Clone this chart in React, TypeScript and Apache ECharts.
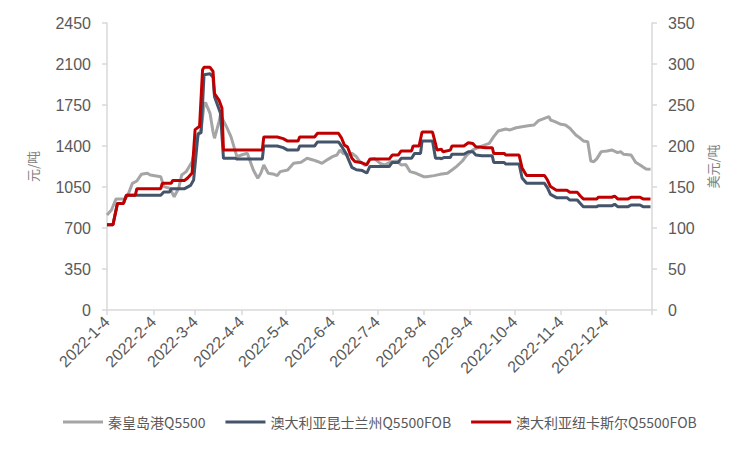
import React, { useEffect, useRef } from "react";
import * as echarts from "echarts";

// Daily category axis: 2022-1-4 .. 2023-1-4
const startDay = Date.UTC(2022, 0, 4);
const endDay = Date.UTC(2023, 0, 4);
const dateCategories: string[] = [];
for (let t = startDay; t <= endDay; t += 86400000) {
  const d = new Date(t);
  dateCategories.push(`${d.getUTCFullYear()}-${d.getUTCMonth() + 1}-${d.getUTCDate()}`);
}

const seriesNames = ["秦皇岛港Q5500", "澳大利亚昆士兰州Q5500FOB", "澳大利亚纽卡斯尔Q5500FOB"];

// 秦皇岛港Q5500 (元/吨, left axis)
const qhdData: [string, number][] = [
  ["2022-1-4", 811], ["2022-1-7", 854], ["2022-1-10", 947], ["2022-1-16", 947], ["2022-1-18", 982],
  ["2022-1-21", 1081], ["2022-1-24", 1101], ["2022-1-27", 1158], ["2022-1-31", 1167], ["2022-2-2", 1152],
  ["2022-2-9", 1138], ["2022-2-11", 1053], ["2022-2-15", 1039], ["2022-2-18", 967], ["2022-2-21", 1039],
  ["2022-2-23", 1152], ["2022-2-26", 1181], ["2022-3-2", 1266], ["2022-3-4", 1380], ["2022-3-6", 1494],
  ["2022-3-8", 1537], ["2022-3-10", 1750], ["2022-3-11", 1770], ["2022-3-14", 1679], ["2022-3-16", 1522],
  ["2022-3-17", 1466], ["2022-3-20", 1608], ["2022-3-21", 1665], ["2022-3-25", 1565], ["2022-3-28", 1480],
  ["2022-4-1", 1309], ["2022-4-4", 1323], ["2022-4-8", 1338], ["2022-4-10", 1266], ["2022-4-12", 1195],
  ["2022-4-15", 1124], ["2022-4-17", 1167], ["2022-4-19", 1238], ["2022-4-22", 1167], ["2022-4-26", 1158],
  ["2022-4-28", 1147], ["2022-4-30", 1181], ["2022-5-5", 1195], ["2022-5-9", 1252], ["2022-5-14", 1261],
  ["2022-5-18", 1295], ["2022-5-22", 1281], ["2022-5-25", 1268], ["2022-5-28", 1252], ["2022-6-1", 1286],
  ["2022-6-4", 1309], ["2022-6-7", 1323], ["2022-6-9", 1366], ["2022-6-11", 1338], ["2022-6-15", 1323],
  ["2022-6-17", 1338], ["2022-6-20", 1309], ["2022-6-22", 1272], ["2022-6-26", 1232], ["2022-6-29", 1281],
  ["2022-7-2", 1295], ["2022-7-6", 1252], ["2022-7-9", 1238], ["2022-7-13", 1266], ["2022-7-17", 1272],
  ["2022-7-20", 1238], ["2022-7-23", 1243], ["2022-7-26", 1181], ["2022-7-30", 1167], ["2022-8-4", 1138],
  ["2022-8-6", 1138], ["2022-8-11", 1147], ["2022-8-15", 1158], ["2022-8-20", 1167], ["2022-8-23", 1195],
  ["2022-8-26", 1224], ["2022-8-30", 1272], ["2022-9-2", 1323], ["2022-9-6", 1366], ["2022-9-11", 1394],
  ["2022-9-17", 1423], ["2022-9-20", 1480], ["2022-9-23", 1528], ["2022-9-28", 1545], ["2022-10-1", 1537],
  ["2022-10-5", 1556], ["2022-10-9", 1565], ["2022-10-13", 1573], ["2022-10-17", 1579], ["2022-10-20", 1616],
  ["2022-10-24", 1636], ["2022-10-27", 1650], ["2022-10-28", 1622], ["2022-10-31", 1608], ["2022-11-4", 1585],
  ["2022-11-7", 1579], ["2022-11-10", 1551], ["2022-11-14", 1494], ["2022-11-17", 1466], ["2022-11-19", 1443],
  ["2022-11-22", 1437], ["2022-11-24", 1272], ["2022-11-26", 1266], ["2022-11-28", 1290], ["2022-12-1", 1352],
  ["2022-12-5", 1357], ["2022-12-8", 1366], ["2022-12-12", 1343], ["2022-12-14", 1352], ["2022-12-16", 1329],
  ["2022-12-21", 1323], ["2022-12-24", 1261], ["2022-12-27", 1238], ["2022-12-31", 1204], ["2023-1-3", 1201],
];

// 澳大利亚昆士兰州Q5500FOB (美元/吨, right axis)
const qldData: [string, number][] = [
  ["2022-1-4", 104], ["2022-1-8", 104], ["2022-1-11", 130], ["2022-1-15", 130], ["2022-1-17", 140],
  ["2022-2-9", 140], ["2022-2-11", 144], ["2022-2-15", 144], ["2022-2-16", 148], ["2022-2-25", 148],
  ["2022-3-1", 152], ["2022-3-3", 158.5], ["2022-3-6", 215], ["2022-3-8", 216], ["2022-3-10", 287],
  ["2022-3-14", 288], ["2022-3-16", 284], ["2022-3-17", 260], ["2022-3-21", 240], ["2022-3-23", 185],
  ["2022-3-31", 185], ["2022-4-1", 184], ["2022-4-18", 184], ["2022-4-19", 200], ["2022-4-28", 200],
  ["2022-5-2", 198], ["2022-5-5", 195], ["2022-5-12", 195], ["2022-5-13", 200], ["2022-5-23", 200],
  ["2022-5-25", 205], ["2022-6-8", 205], ["2022-6-10", 200], ["2022-6-13", 191], ["2022-6-17", 174],
  ["2022-6-20", 171], ["2022-6-24", 170], ["2022-6-27", 167], ["2022-6-29", 175], ["2022-7-12", 175],
  ["2022-7-14", 180], ["2022-7-18", 180], ["2022-7-20", 185], ["2022-7-27", 185], ["2022-7-29", 191],
  ["2022-8-2", 191], ["2022-8-3", 206], ["2022-8-10", 206], ["2022-8-12", 185], ["2022-8-15", 185],
  ["2022-8-16", 184.5], ["2022-8-18", 186], ["2022-8-22", 186], ["2022-8-23", 190], ["2022-8-31", 190],
  ["2022-9-3", 193], ["2022-9-6", 193], ["2022-9-8", 189], ["2022-9-12", 188], ["2022-9-19", 188],
  ["2022-9-20", 180], ["2022-9-27", 180], ["2022-9-28", 178], ["2022-10-7", 178], ["2022-10-9", 161],
  ["2022-10-12", 154.5], ["2022-10-24", 154.5], ["2022-10-26", 149], ["2022-10-28", 141], ["2022-11-1", 137],
  ["2022-11-8", 137], ["2022-11-10", 134], ["2022-11-15", 134], ["2022-11-17", 130], ["2022-11-19", 126],
  ["2022-11-28", 126], ["2022-11-29", 127], ["2022-12-8", 127], ["2022-12-10", 129], ["2022-12-12", 126],
  ["2022-12-19", 126], ["2022-12-21", 128], ["2022-12-27", 128], ["2022-12-29", 126], ["2023-1-3", 126],
];

// 澳大利亚纽卡斯尔Q5500FOB (美元/吨, right axis)
const newcastleData: [string, number][] = [
  ["2022-1-4", 104], ["2022-1-8", 104], ["2022-1-11", 130], ["2022-1-15", 130], ["2022-1-17", 140],
  ["2022-1-23", 140], ["2022-1-24", 148], ["2022-2-9", 148], ["2022-2-10", 154.5], ["2022-2-16", 154.5],
  ["2022-2-17", 158], ["2022-2-25", 158], ["2022-2-27", 161], ["2022-3-2", 167], ["2022-3-4", 220],
  ["2022-3-7", 224], ["2022-3-9", 293], ["2022-3-10", 296], ["2022-3-14", 296], ["2022-3-16", 291],
  ["2022-3-17", 264], ["2022-3-20", 256], ["2022-3-22", 246], ["2022-3-23", 195], ["2022-4-18", 195],
  ["2022-4-19", 211], ["2022-4-28", 211], ["2022-5-2", 209], ["2022-5-5", 206], ["2022-5-12", 206],
  ["2022-5-13", 211], ["2022-5-23", 211], ["2022-5-25", 215.5], ["2022-6-8", 215.5], ["2022-6-10", 210],
  ["2022-6-12", 201], ["2022-6-14", 199], ["2022-6-17", 185], ["2022-6-19", 181], ["2022-6-23", 180],
  ["2022-6-27", 177], ["2022-6-29", 184], ["2022-7-12", 184], ["2022-7-14", 189], ["2022-7-18", 189],
  ["2022-7-20", 194], ["2022-7-27", 194], ["2022-7-28", 200], ["2022-8-1", 200], ["2022-8-3", 217],
  ["2022-8-10", 217], ["2022-8-12", 203], ["2022-8-13", 195], ["2022-8-16", 196], ["2022-8-17", 193],
  ["2022-8-22", 195], ["2022-8-23", 200], ["2022-8-31", 200], ["2022-9-3", 204], ["2022-9-6", 203],
  ["2022-9-8", 199], ["2022-9-15", 198], ["2022-9-19", 198], ["2022-9-20", 191], ["2022-9-27", 191],
  ["2022-9-28", 189], ["2022-10-7", 189], ["2022-10-9", 173], ["2022-10-12", 164], ["2022-10-24", 164],
  ["2022-10-26", 158.5], ["2022-10-28", 150.5], ["2022-11-1", 146], ["2022-11-8", 146], ["2022-11-10", 143.5],
  ["2022-11-15", 143.5], ["2022-11-17", 139], ["2022-11-19", 135.5], ["2022-11-28", 135.5], ["2022-11-29", 137.5],
  ["2022-12-8", 137.5], ["2022-12-10", 139], ["2022-12-12", 135.5], ["2022-12-19", 135.5], ["2022-12-21", 137.5],
  ["2022-12-27", 137.5], ["2022-12-29", 135.5], ["2023-1-3", 135.5],
];

const leftTicks = { min: 0, max: 2450, interval: 350 };
const rightTicks = { min: 0, max: 350, interval: 50 };

const colors = ["#A5A5A5", "#44546A", "#C00000"];

export default function App() {
  const ref = useRef<HTMLDivElement>(null);
  useEffect(() => {
    if (!ref.current) return;
    const chart = echarts.init(ref.current, undefined, { renderer: "svg" });
    const axisGray = "#D9D9D9";
    const labelColor = "#595959";
    const isTick = (_i: number, v: string) => /-4$/.test(v);
    const isLabel = (_i: number, v: string) => /-4$/.test(v) && v !== "2023-1-4";
    const plain = (v: number) => String(v);
    chart.setOption({
      animation: false,
      textStyle: { fontFamily: "'Noto Sans CJK SC', 'Noto Sans', sans-serif" },
      grid: { left: 107, right: 98, top: 23, bottom: 140, containLabel: false },
      legend: {
        data: seriesNames,
        left: 58,
        top: 410,
        itemGap: 20,
        itemWidth: 40,
        itemHeight: 3,
        icon: "rect",
        textStyle: { fontSize: 14, color: labelColor },
      },
      xAxis: {
        type: "category",
        data: dateCategories,
        boundaryGap: false,
        axisLine: { lineStyle: { color: axisGray, width: 1.5 } },
        axisTick: { show: true, interval: isTick, length: 5, lineStyle: { color: axisGray, width: 1.5 } },
        axisLabel: {
          interval: isLabel,
          rotate: 45,
          fontSize: 16,
          color: labelColor,
          margin: 9,
          fontFamily: "'Liberation Sans', sans-serif",
        },
        splitLine: { show: false },
      },
      yAxis: [
        {
          type: "value",
          ...leftTicks,
          position: "left",
          name: "元/吨",
          nameLocation: "middle",
          nameRotate: 90,
          nameGap: 68,
          nameTextStyle: { fontSize: 13, color: "#808080" },
          axisLine: { show: true, lineStyle: { color: axisGray, width: 1.5 } },
          axisTick: { show: true, length: 5, lineStyle: { color: axisGray, width: 1.5 } },
          axisLabel: { fontSize: 16, color: labelColor, margin: 16, formatter: plain, fontFamily: "'Liberation Sans', sans-serif" },
          splitLine: { show: false },
        },
        {
          type: "value",
          ...rightTicks,
          position: "right",
          name: "美元/吨",
          nameLocation: "middle",
          nameRotate: 90,
          nameGap: 54,
          nameTextStyle: { fontSize: 13, color: "#808080" },
          axisLine: { show: true, lineStyle: { color: axisGray, width: 1.5 } },
          axisTick: { show: true, length: 5, lineStyle: { color: axisGray, width: 1.5 } },
          axisLabel: { fontSize: 16, color: labelColor, margin: 16, formatter: plain, fontFamily: "'Liberation Sans', sans-serif" },
          splitLine: { show: false },
        },
      ],
      series: [
        {
          name: seriesNames[0],
          type: "line",
          yAxisIndex: 0,
          data: qhdData,
          showSymbol: false,
          color: colors[0],
          lineStyle: { width: 3, color: colors[0] },
        },
        {
          name: seriesNames[1],
          type: "line",
          yAxisIndex: 1,
          data: qldData,
          showSymbol: false,
          color: colors[1],
          lineStyle: { width: 3, color: colors[1] },
        },
        {
          name: seriesNames[2],
          type: "line",
          yAxisIndex: 1,
          data: newcastleData,
          showSymbol: false,
          color: colors[2],
          lineStyle: { width: 3, color: colors[2] },
        },
      ],
    });
    return () => chart.dispose();
  }, []);
  return (
    <div
      ref={ref}
      style={{ position: "fixed", left: 0, top: 0, width: 750, height: 450, background: "#fff" }}
    />
  );
}
